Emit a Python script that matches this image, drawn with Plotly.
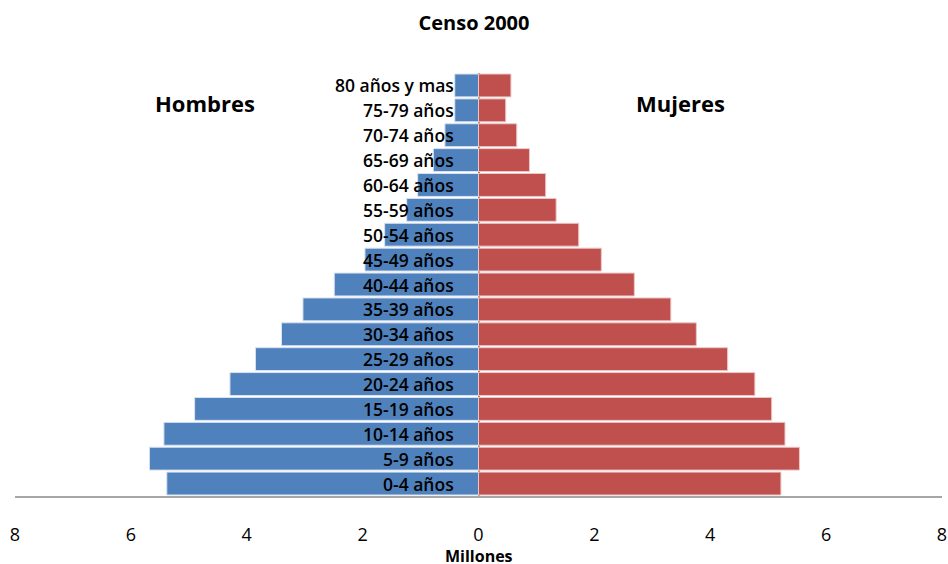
import plotly.graph_objects as go

# Censo 2000 - piramide de poblacion (millones)
grupos = ["0-4 años", "5-9 años", "10-14 años", "15-19 años", "20-24 años",
          "25-29 años", "30-34 años", "35-39 años", "40-44 años", "45-49 años",
          "50-54 años", "55-59 años", "60-64 años", "65-69 años", "70-74 años",
          "75-79 años", "80 años y mas"]
hombres = [5.38, 5.68, 5.43, 4.90, 4.29, 3.85, 3.40, 3.03, 2.49, 1.96,
           1.62, 1.24, 1.05, 0.78, 0.58, 0.41, 0.41]
mujeres = [5.22, 5.54, 5.29, 5.06, 4.77, 4.30, 3.76, 3.32, 2.69, 2.12,
           1.73, 1.34, 1.16, 0.88, 0.66, 0.47, 0.56]
tick_vals = [-8, -6, -4, -2, 0, 2, 4, 6, 8]
tick_text = ["8", "6", "4", "2", "0", "2", "4", "6", "8"]

FONT = "Open Sans"

fig = go.Figure()
fig.add_trace(go.Bar(
    y=grupos, x=[-v for v in hombres], orientation="h", name="Hombres",
    marker=dict(color="#4F81BD", line=dict(color="#D9E2F0", width=1)),
))
fig.add_trace(go.Bar(
    y=grupos, x=mujeres, orientation="h", name="Mujeres",
    marker=dict(color="#C0504D", line=dict(color="#EBC8C7", width=1)),
))

# etiquetas de grupo de edad junto al eje central
for g in grupos:
    fig.add_annotation(x=0, y=g, text=g, showarrow=False, xanchor="right",
                       xshift=-23, font=dict(family=FONT, size=17.5, weight=600, color="#000000"))

fig.add_annotation(x=0.205, y=0.93, xref="paper", yref="paper", text="<b>Hombres</b>",
                   showarrow=False, xanchor="center", yanchor="middle",
                   font=dict(family=FONT, size=22, color="#000000"))
fig.add_annotation(x=0.718, y=0.93, xref="paper", yref="paper", text="<b>Mujeres</b>",
                   showarrow=False, xanchor="center", yanchor="middle",
                   font=dict(family=FONT, size=22, color="#000000"))
# titulo del eje x
fig.add_annotation(x=0, y=-0.142, xref="x", yref="paper", text="<b>Millones</b>",
                   showarrow=False, xanchor="center", yanchor="middle",
                   font=dict(family=FONT, size=16, color="#000000"))

fig.update_layout(
    width=948, height=564,
    margin=dict(l=15, r=6, t=73, b=68, autoexpand=False),
    paper_bgcolor="white", plot_bgcolor="white",
    barmode="overlay", bargap=0.08,
    showlegend=False,
    title=dict(text="<b>Censo 2000</b>", x=0.5, xanchor="center", y=0.96,
               yanchor="middle", yref="container",
               font=dict(family=FONT, size=20, color="#000000")),
    xaxis=dict(range=[-8, 8], tickvals=tick_vals, ticktext=tick_text, automargin=False,
               showgrid=False, zeroline=True, zerolinecolor="#8C8C8C", zerolinewidth=1.5,
               showline=True, linecolor="#A6A6A6", linewidth=1.5,
               ticks="", ticklabelstandoff=22,
               tickfont=dict(family=FONT, size=18, color="#000000")),
    yaxis=dict(showticklabels=False, showgrid=False, zeroline=False, showline=False,
               automargin=False, range=[-0.5, 16.5]),
    font=dict(family=FONT),
)

fig.write_html("out.html", config={"displayModeBar": False},
               post_script="document.body.style.margin='0px';")
